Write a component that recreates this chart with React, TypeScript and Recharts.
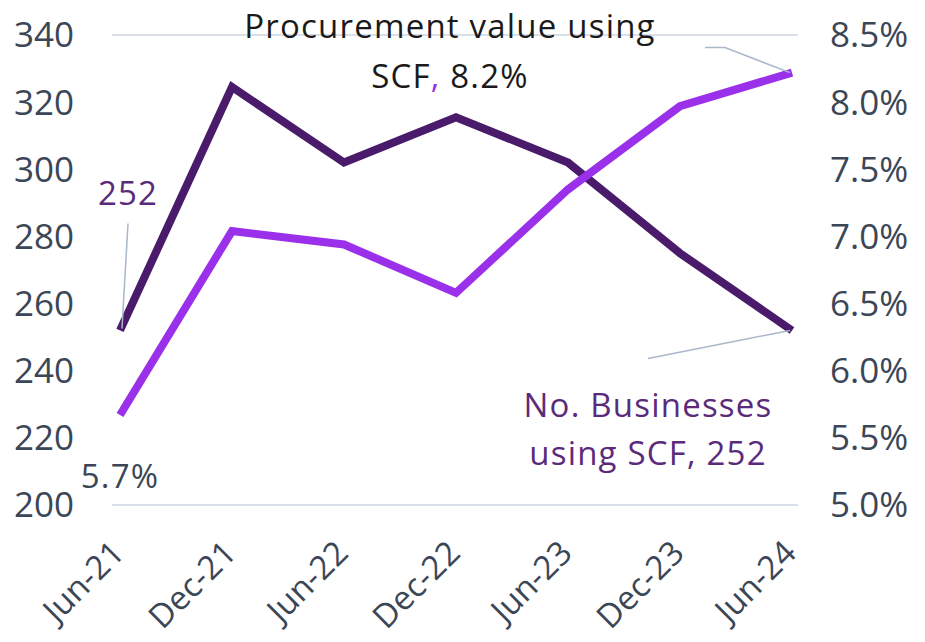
import React from 'react';
import { LineChart, Line, XAxis, YAxis, CartesianGrid, LabelList } from 'recharts';

const periods = ['Jun-21', 'Dec-21', 'Jun-22', 'Dec-22', 'Jun-23', 'Dec-23', 'Jun-24'];
const businesses = [252, 324.5, 302, 315.5, 302, 275, 252];
const procurementPct = [5.67, 7.04, 6.94, 6.58, 7.35, 7.97, 8.22];
const leftTicks = [200, 220, 240, 260, 280, 300, 320, 340];
const rightTicks = [5.0, 5.5, 6.0, 6.5, 7.0, 7.5, 8.0, 8.5];

const data = periods.map((p, i) => ({
  period: p,
  businesses: businesses[i],
  pct: procurementPct[i],
}));

const FONT = '"Open Sans", sans-serif';
const AXIS_COLOR = '#3b4656';
const DARK = '#4a1a6b';
const LIGHT = '#9b30ea';
const LEADER = '#a9b7c9';
const LABEL_PURPLE = '#5b2b7b';
const ANN_SIZE = 33;
const ANN_SPACING = 1.2;

const XTick = (props: any) => {
  const { x, y, payload } = props;
  return (
    <g transform={`translate(${x + 6},${y + 42})`}>
      <text
        transform="rotate(-45)"
        textAnchor="end"
        fill={AXIS_COLOR}
        fontSize={33}
        fontFamily={FONT}
      >
        {payload.value}
      </text>
    </g>
  );
};

// labels for the dark (count) line
const businessLabel = (props: any) => {
  const { x, y, index } = props;
  const t = { fill: LABEL_PURPLE, fontSize: ANN_SIZE, fontFamily: FONT, letterSpacing: ANN_SPACING };
  if (index === 0) {
    return (
      <g>
        <line x1={x + 2} y1={y - 2} x2={x + 8} y2={y - 107} stroke={LEADER} strokeWidth={1.5} />
        <text x={x + 8} y={y - 125} textAnchor="middle" {...t}>
          252
        </text>
      </g>
    );
  }
  if (index === periods.length - 1) {
    return (
      <g>
        <line x1={x - 2} y1={y} x2={x - 144} y2={y + 28} stroke={LEADER} strokeWidth={1.5} />
        <text x={x - 144} y={y + 87} textAnchor="middle" {...t}>
          No. Businesses
        </text>
        <text x={x - 144} y={y + 135} textAnchor="middle" {...t}>
          using SCF, 252
        </text>
      </g>
    );
  }
  return null;
};

// labels for the light (percentage) line
const pctLabel = (props: any) => {
  const { x, y, index } = props;
  if (index === 0) {
    return (
      <text x={x} y={y + 73} textAnchor="middle" fill={AXIS_COLOR} fontSize={ANN_SIZE} fontFamily={FONT} letterSpacing={ANN_SPACING}>
        5.7%
      </text>
    );
  }
  if (index === periods.length - 1) {
    const t = { fill: '#1a1a1a', fontSize: ANN_SIZE, fontFamily: FONT, letterSpacing: ANN_SPACING };
    return (
      <g>
        <polyline
          points={`${x - 2},${y} ${x - 67},${y - 25} ${x - 87},${y - 25}`}
          fill="none"
          stroke={LEADER}
          strokeWidth={1.5}
        />
        <text x={x - 342} y={y - 35} textAnchor="middle" {...t}>
          Procurement value using
        </text>
        <text x={x - 342} y={y + 15} textAnchor="middle" {...t}>
          SCF<tspan fill={LIGHT}>,</tspan> 8.2%
        </text>
      </g>
    );
  }
  return null;
};

export default function App() {
  return (
    <div style={{ position: 'absolute', left: 0, top: 0, width: 925, height: 642, background: '#fff' }}>
      <LineChart
        width={925}
        height={642}
        data={data}
        margin={{ top: 35, right: 0, bottom: 0, left: 0 }}
      >
        <CartesianGrid stroke="#d9e0ea" strokeWidth={2} vertical={false} />
        <XAxis
          dataKey="period"
          axisLine={false}
          tickLine={false}
          tick={<XTick />}
          interval={0}
          height={137}
          padding={{ left: 8, right: 6 }}
        />
        <YAxis
          yAxisId="left"
          domain={[200, 340]}
          ticks={leftTicks}
          axisLine={false}
          tickLine={false}
          width={112}
          tickMargin={32}
          tick={{ fill: AXIS_COLOR, fontSize: 35, fontFamily: FONT }}
        />
        <YAxis
          yAxisId="right"
          orientation="right"
          domain={[5, 8.5]}
          ticks={rightTicks}
          axisLine={false}
          tickLine={false}
          width={127}
          tickMargin={26}
          tickFormatter={(v: number) => `${v.toFixed(1)}%`}
          tick={{ fill: AXIS_COLOR, fontSize: 35, fontFamily: FONT }}
        />
        <Line
          yAxisId="left"
          type="linear"
          dataKey="businesses"
          stroke={DARK}
          strokeWidth={8}
          dot={false}
          activeDot={false}
          isAnimationActive={false}
        >
          <LabelList dataKey="businesses" content={businessLabel} />
        </Line>
        <Line
          yAxisId="right"
          type="linear"
          dataKey="pct"
          stroke={LIGHT}
          strokeWidth={8}
          dot={false}
          activeDot={false}
          isAnimationActive={false}
        >
          <LabelList dataKey="pct" content={pctLabel} />
        </Line>
      </LineChart>
    </div>
  );
}
